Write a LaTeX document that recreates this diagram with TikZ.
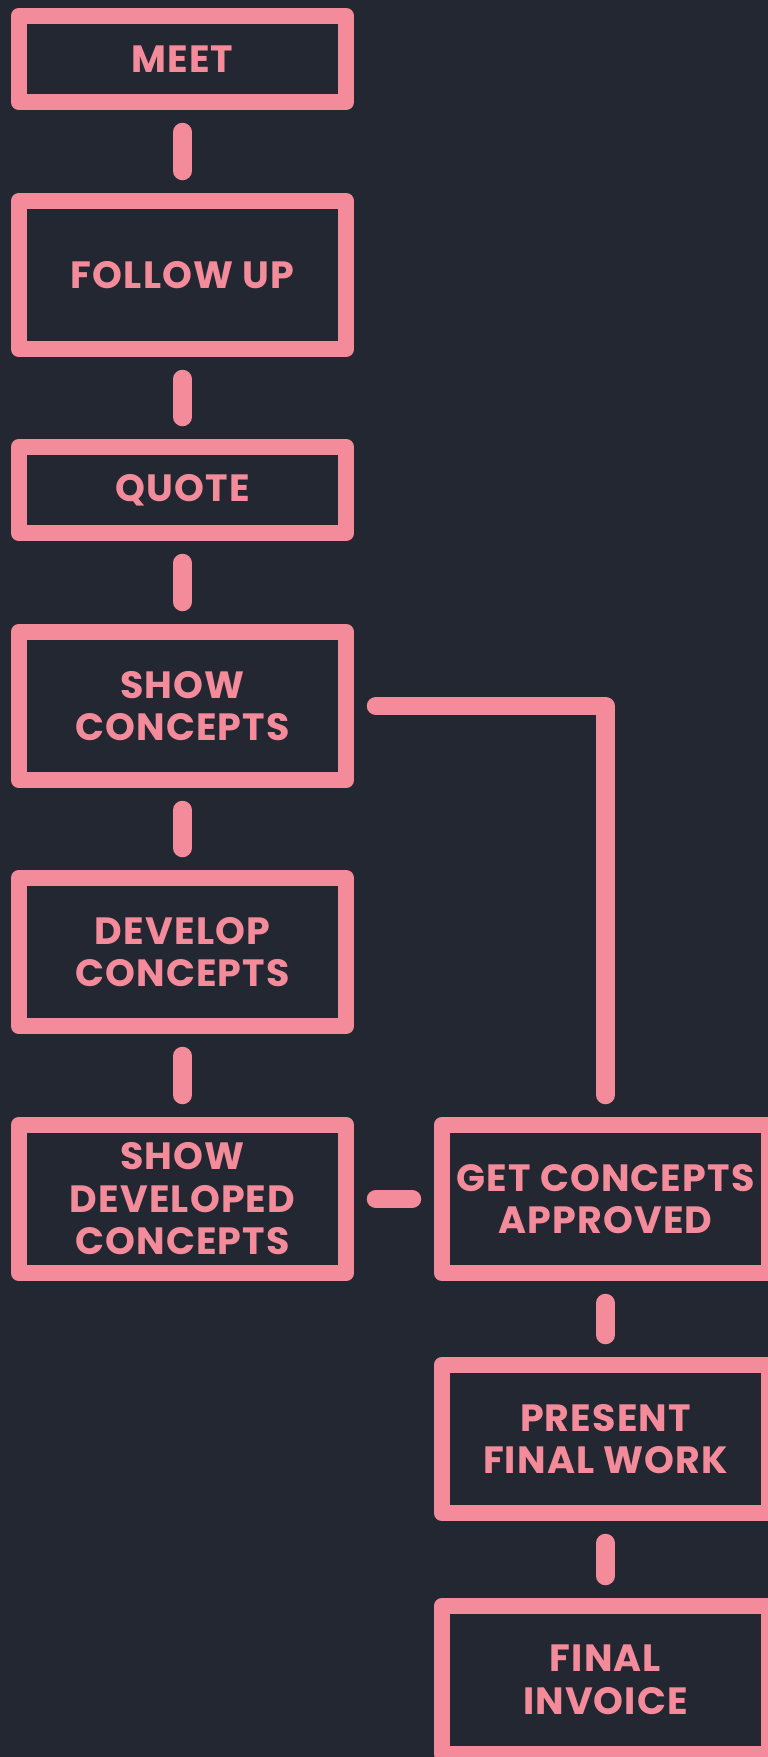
\documentclass[tikz,border=0pt]{standalone}
\usepackage{fontspec}
\setmainfont{Poppins}[LetterSpace=3]
\usepackage{xcolor}
\usepackage{tikz}
\usetikzlibrary{positioning}

\definecolor{bgdark}{HTML}{232732}
\definecolor{rosepink}{HTML}{F38B9A}

\tikzset{
  stepbox/.style={draw=rosepink, line width=16.5pt, line join=round, inner sep=0pt, outer sep=0pt,
    minimum width=327pt, text=rosepink, align=center, font=\fontsize{38}{42.5}\selectfont\bfseries},
  shortbox/.style={stepbox, minimum height=86pt},
  tallbox/.style={stepbox, minimum height=148pt},
  link/.style={draw=rosepink, line width=18.5pt, line cap=round, line join=round,
    shorten <=30pt, shorten >=30pt}
}

\begin{document}
\begin{tikzpicture}[x=1pt, y=-1pt]
\fill[bgdark] (0,0) rectangle (768,1757);
\useasboundingbox (0,0) rectangle (768,1757);

\node[shortbox] (meet) at (182.5, 59) {MEET};
\node[tallbox] (follow) at (182.5, 275) {FOLLOW UP};
\node[shortbox] (quote) at (182.5, 490) {QUOTE};
\node[tallbox] (show) at (182.5, 706) {SHOW\\CONCEPTS};
\node[tallbox] (develop) at (182.5, 952) {DEVELOP\\CONCEPTS};
\node[tallbox] (showdev) at (182.5, 1199) {SHOW\\DEVELOPED\\CONCEPTS};
\node[tallbox] (approve) at (605.5, 1199) {GET CONCEPTS\\APPROVED};
\node[tallbox] (present) at (605.5, 1439) {PRESENT\\FINAL WORK};
\node[tallbox] (invoice) at (605.5, 1680) {FINAL\\INVOICE};

\foreach \a/\b in {meet/follow, follow/quote, quote/show, show/develop, develop/showdev,
    showdev/approve, approve/present, present/invoice}
  \draw[link] (\a) -- (\b);
\draw[link] (show) -| (approve);
\end{tikzpicture}
\end{document}
